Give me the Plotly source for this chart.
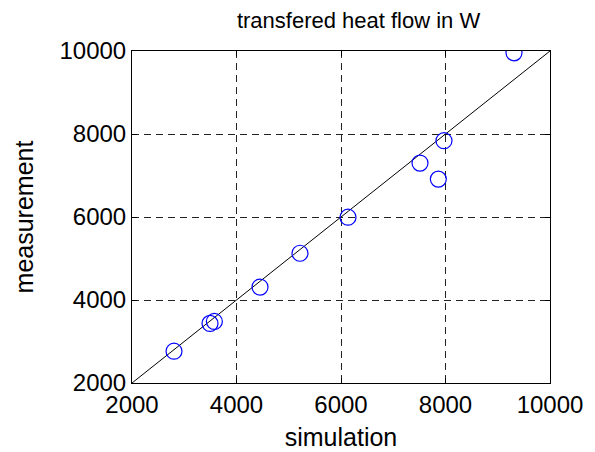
import plotly.graph_objects as go

simulation = [2804, 3493, 3576, 4450, 5215, 6134, 7512, 7863, 7971, 9311]
measurement = [2766, 3435, 3483, 4311, 5126, 5995, 7300, 6913, 7838, 9956]
ref_line = [2000, 10000]
tick_vals = [2000, 4000, 6000, 8000, 10000]
tick_text = ["2000", "4000", "6000", "8000", "10000"]

FONT = "Liberation Sans, Arial, sans-serif"

fig = go.Figure()
fig.add_trace(go.Scatter(x=ref_line, y=ref_line, mode="lines",
                         line=dict(color="black", width=1), showlegend=False))
fig.add_trace(go.Scatter(x=simulation, y=measurement, mode="markers",
                         marker=dict(symbol="circle-open", size=16,
                                     color="#0000ff", line=dict(width=1.2, color="#0000ff")),
                         showlegend=False))

axis_common = dict(range=[2000, 10000], tickvals=tick_vals, ticktext=tick_text,
                   ticks="inside", ticklen=5, automargin=False,
                   tickcolor="black", showline=True, linecolor="black", linewidth=1,
                   mirror="ticks", showgrid=True, gridcolor="#222222", griddash="7px,5px",
                   gridwidth=0.9, zeroline=False, tickfont=dict(size=24, color="black", family=FONT))

fig.update_xaxes(title=dict(text="simulation", font=dict(size=25, color="black", family=FONT), standoff=11),
                 **axis_common)
fig.update_yaxes(title=dict(text="measurement", font=dict(size=25, color="black", family=FONT), standoff=18),
                 **axis_common)

fig.update_layout(
    width=595, height=452,
    margin=dict(l=132, r=45, t=51, b=69),
    paper_bgcolor="white", plot_bgcolor="white",
    title=dict(text="transfered heat flow in W", x=0.542, xref="paper", xanchor="center",
               y=0.956, yanchor="middle",
               font=dict(size=22, color="black", family=FONT)),
    font=dict(family=FONT, color="black"),
)

fig.write_html("out.html")
